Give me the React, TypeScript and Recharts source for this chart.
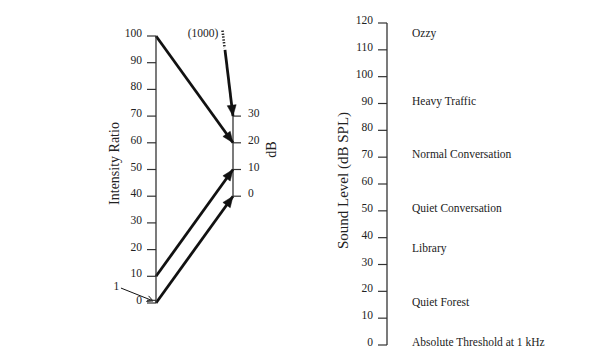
import React from 'react';
import { ComposedChart, Line, XAxis, YAxis, Scatter, ReferenceLine, ReferenceDot } from 'recharts';

const FONT = '"Liberation Serif", "Times New Roman", serif';
const INK = '#111';
const AXIS = '#333';
const TEXT = '#222';

// ---------- Left panel data ----------
const intensityTicks = [0, 1, 10, 20, 30, 40, 50, 60, 70, 80, 90, 100];
const intensityDomain = [0, 100];
const dbTicks = [0, 10, 20, 30];
const dbDomain = [-40, 60]; // 0 dB sits at intensity tick 40
const dbAxisLine = [{ x: 1, y: 0 }, { x: 1, y: 30 }];
// arrows: x = 0 (intensity axis) -> x = 1 (dB axis); y in intensity-axis units
const arrowFrom100 = [{ x: 0, y: 100 }, { x: 1, y: 60 }];
const arrowFrom10 = [{ x: 0, y: 10 }, { x: 1, y: 50 }];
const arrowFrom1 = [{ x: 0, y: 0 }, { x: 1, y: 40 }];
const arrowFrom1000 = [{ x: 0.896, y: 94.8 }, { x: 1, y: 70 }];
const dotted1000 = [{ x: 0.864, y: 102 }, { x: 0.891, y: 95.5 }];
const label1000 = { x: 0.61, y: 101, text: '(1000)' };
const pointer1 = [{ x: -0.455, y: 5.6 }, { x: -0.039, y: 0.8 }];
const label1 = { x: -0.513, y: 6.2, text: '1' };

// ---------- Right panel data ----------
const splTicks = [0, 10, 20, 30, 40, 50, 60, 70, 80, 90, 100, 110, 120];
const soundNames = ['Ozzy', 'Heavy Traffic', 'Normal Conversation', 'Quiet Conversation', 'Library', 'Quiet Forest', 'Absolute Threshold at 1 kHz'];
const soundLevels = [115, 90, 70, 50, 35, 15, 0];
const soundData = soundNames.map((name, i) => ({ x: 0, y: soundLevels[i], name }));

const makeTick = (hidden: number[]) => (props: any) => {
  const { x, y, payload, textAnchor } = props;
  if (hidden.includes(payload.value)) return <g />;
  return (
    <text x={x} y={y - 3} dy="0.35em" textAnchor={textAnchor} fontFamily={FONT} fontSize={11.5} fill={TEXT}>
      {payload.value}
    </text>
  );
};

const arrowDot = (props: any) => {
  const { cx, cy, index, points } = props;
  const key = `ad-${index}-${cx}-${cy}`;
  if (!points || index !== points.length - 1 || index === 0) return <g key={key} />;
  const p = points[index - 1];
  const ang = Math.atan2(cy - p.y, cx - p.x);
  const L = 11;
  const W = 4.5;
  const c = Math.cos(ang);
  const s = Math.sin(ang);
  const bx = cx - L * c;
  const by = cy - L * s;
  const pts = `${cx},${cy} ${bx + W * s},${by - W * c} ${bx - W * s},${by + W * c}`;
  return <polygon key={key} points={pts} fill={INK} stroke={INK} strokeWidth={0.5} />;
};

const pointerShape = (props: any) => {
  const { x1, y1, x2, y2 } = props;
  const ang = Math.atan2(y2 - y1, x2 - x1);
  const c = Math.cos(ang);
  const s = Math.sin(ang);
  const L = 6;
  const W = 3;
  const bx = x2 - L * c;
  const by = y2 - L * s;
  return (
    <g>
      <line x1={x1} y1={y1} x2={x2} y2={y2} stroke={INK} strokeWidth={1} />
      <polyline points={`${bx + W * s},${by - W * c} ${x2},${y2} ${bx - W * s},${by + W * c}`} fill="none" stroke={INK} strokeWidth={1} />
    </g>
  );
};

const dottedShape = (props: any) => {
  const { x1, y1, x2, y2 } = props;
  return <line x1={x1} y1={y1} x2={x2} y2={y2} stroke={INK} strokeWidth={2.6} strokeDasharray="1.3 1.6" />;
};

const textDot = (text: string) => (props: any) => {
  const { cx, cy } = props;
  return (
    <text x={cx} y={cy} dy="0.35em" textAnchor="middle" fontFamily={FONT} fontSize={11.5} fill={TEXT}>
      {text}
    </text>
  );
};

const LevelLabel = (props: any) => {
  const { cx, cy, payload } = props;
  return (
    <text x={cx + 25} y={cy - 3} dy="0.35em" textAnchor="start" fontFamily={FONT} fontSize={11.5} fill={TEXT}>
      {payload.name}
    </text>
  );
};

const arrowLine = (data: any[], id: string) => (
  <Line
    key={id}
    data={data}
    dataKey="y"
    yAxisId="int"
    type="linear"
    stroke={INK}
    strokeWidth={2.8}
    dot={arrowDot}
    activeDot={false}
    isAnimationActive={false}
  />
);

export default function App() {
  return (
    <div style={{ position: 'absolute', left: 0, top: 0, width: 596, height: 358, background: '#fff' }}>
      <div style={{ position: 'absolute', left: 0, top: 0 }}>
        <ComposedChart width={300} height={358} margin={{ top: 36, right: 7, bottom: 55, left: 0 }}>
          <XAxis type="number" dataKey="x" domain={[0, 1]} hide />
          <YAxis
            yAxisId="int"
            type="number"
            domain={intensityDomain}
            ticks={intensityTicks}
            interval={0}
            width={156}
            tickSize={9}
            tickMargin={5}
            axisLine={{ stroke: AXIS, strokeWidth: 1.3 }}
            tickLine={{ stroke: AXIS, strokeWidth: 1.2 }}
            tick={makeTick([1])}
            label={{ value: 'Intensity Ratio', angle: -90, position: 'center', dx: 36, dy: -6, style: { fontFamily: FONT, fontSize: 14, fill: TEXT } }}
          />
          <YAxis
            yAxisId="db"
            orientation="right"
            type="number"
            domain={dbDomain}
            ticks={dbTicks}
            interval={0}
            width={60}
            tickSize={8}
            tickMargin={7}
            axisLine={false}
            tickLine={{ stroke: AXIS, strokeWidth: 1.2 }}
            tick={makeTick([])}
            label={{ value: 'dB', angle: -90, position: 'center', dx: 8, dy: -20, style: { fontFamily: FONT, fontSize: 14, fill: TEXT } }}
          />
          <Line data={dbAxisLine} dataKey="y" yAxisId="db" stroke={AXIS} strokeWidth={1.3} dot={false} activeDot={false} isAnimationActive={false} />
          {arrowLine(arrowFrom100, 'a100')}
          {arrowLine(arrowFrom10, 'a10')}
          {arrowLine(arrowFrom1, 'a1')}
          {arrowLine(arrowFrom1000, 'a1000')}
          <ReferenceLine yAxisId="int" segment={dotted1000} ifOverflow="visible" shape={dottedShape} />
          <ReferenceLine yAxisId="int" segment={pointer1} ifOverflow="visible" shape={pointerShape} />
          <ReferenceDot yAxisId="int" x={label1000.x} y={label1000.y} r={0} ifOverflow="visible" shape={textDot(label1000.text)} />
          <ReferenceDot yAxisId="int" x={label1.x} y={label1.y} r={0} ifOverflow="visible" shape={textDot(label1.text)} />
        </ComposedChart>
      </div>
      <div style={{ position: 'absolute', left: 300, top: 0 }}>
        <ComposedChart width={296} height={358} margin={{ top: 23, right: 6, bottom: 13, left: 0 }}>
          <XAxis type="number" dataKey="x" domain={[0, 1]} hide />
          <YAxis
            type="number"
            dataKey="y"
            domain={[0, 120]}
            ticks={splTicks}
            interval={0}
            width={87}
            tickSize={9}
            tickMargin={5}
            axisLine={{ stroke: AXIS, strokeWidth: 1.3 }}
            tickLine={{ stroke: AXIS, strokeWidth: 1.2 }}
            tick={makeTick([])}
            label={{ value: 'Sound Level (dB SPL)', angle: -90, position: 'center', dx: -0.5, dy: -3.5, style: { fontFamily: FONT, fontSize: 15, fill: TEXT } }}
          />
          <Scatter data={soundData} dataKey="y" shape={LevelLabel} isAnimationActive={false} />
        </ComposedChart>
      </div>
    </div>
  );
}
